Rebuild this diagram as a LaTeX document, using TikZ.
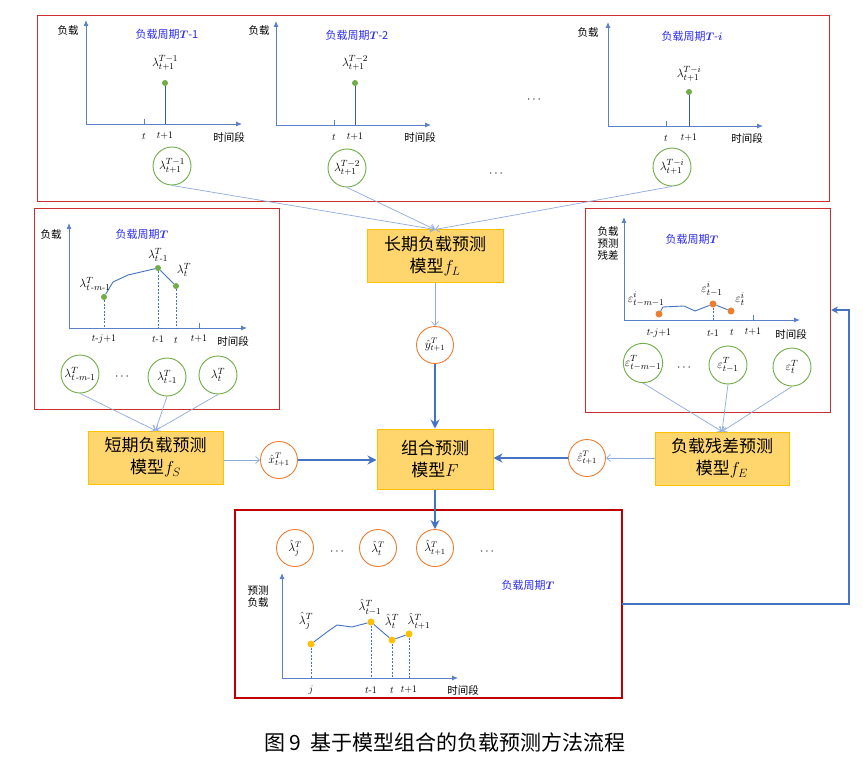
\documentclass[tikz,border=0pt]{standalone}
\usepackage{amsmath}
\usepackage{fontspec}
\newfontfamily\cjk{Noto Sans CJK SC}
\usetikzlibrary{arrows.meta}
\definecolor{panelred}{RGB}{205,45,45}
\definecolor{darkred}{RGB}{192,0,0}
\definecolor{axblue}{RGB}{91,127,200}
\definecolor{stemblue}{RGB}{60,90,150}
\definecolor{fatblue}{RGB}{68,114,196}
\definecolor{lineblue}{RGB}{143,170,220}
\definecolor{cgreen}{RGB}{112,173,71}
\definecolor{corange}{RGB}{237,125,49}
\definecolor{boxfill}{RGB}{255,214,110}
\definecolor{boxdraw}{RGB}{255,192,0}
\definecolor{ttlblue}{RGB}{45,45,240}
\definecolor{dotyellow}{RGB}{255,192,0}
\newcommand{\bT}{$\boldsymbol{T}$}
\tikzset{
  panel/.style={draw=panelred, line width=1pt, inner sep=0pt},
  bpanel/.style={draw=darkred, line width=2pt, inner sep=0pt},
  axis/.style={draw=axblue, line width=0.9pt, -{Latex[length=6pt,width=5pt]}},
  tick/.style={draw=axblue, line width=0.8pt},
  stem/.style={draw=stemblue, line width=1pt},
  curve/.style={draw=fatblue, line width=0.9pt},
  dashv/.style={draw=fatblue, line width=0.7pt, dash pattern=on 2pt off 1.5pt},
  gcirc/.style={circle, draw=cgreen, line width=0.9pt, minimum size=38pt, inner sep=0pt, font=\fontsize{12.5}{13}\selectfont},
  ocirc/.style={circle, draw=corange, line width=0.9pt, minimum size=37pt, inner sep=0pt, font=\fontsize{12}{13}\selectfont},
  gdot/.style={circle, fill=cgreen, inner sep=0pt, minimum size=6pt},
  odot/.style={circle, fill=corange, inner sep=0pt, minimum size=7pt},
  ydot/.style={circle, fill=dotyellow, inner sep=0pt, minimum size=7pt},
  model/.style={draw=boxdraw, fill=boxfill, line width=1pt, align=center, inner sep=0pt, font=\cjk\fontsize{17}{22}\selectfont},
  thinln/.style={draw=lineblue, line width=0.7pt},
  thinarr/.style={draw=lineblue, line width=0.7pt, -{Straight Barb[length=4pt,width=7pt]}},
  fat/.style={draw=fatblue, line width=2.2pt, -{Stealth[length=9pt,width=9pt]}},
  fb/.style={draw=fatblue, line width=1.5pt, -{Stealth[length=7pt,width=7pt]}},
  lbl/.style={font=\cjk\fontsize{10.5}{13}\selectfont, inner sep=0pt},
  ttl/.style={text=ttlblue, font=\cjk\fontsize{11}{13}\selectfont, inner sep=0pt},
  ml/.style={font=\fontsize{12.5}{13}\selectfont, inner sep=0pt},
  tl/.style={font=\fontsize{10}{12}\selectfont, inner sep=0pt},
  dots/.style={font=\fontsize{12}{13}\selectfont, inner sep=0pt},
}
\begin{document}
\begin{tikzpicture}[x=1pt,y=-1pt]
\useasboundingbox[fill=white] (0,0) rectangle (863,757);

% ================= top panel =================
\node[panel, minimum width=792pt, minimum height=186pt] (toppanel) at (433,109) {};

% chart 1
\coordinate (o1) at (86,124);
\draw[axis] (o1) -- (86,20);
\draw[axis] (o1) -- (242,124);
\draw[tick] (144,119) -- (144,124);
\node[gdot] (p1) at (165,83) {};
\draw[stem] (p1) -- (165,124);
\node[ml] (l1) at (165,63) {$\lambda^{T-1}_{t+1}$};
\node[tl] (t1a) at (144,136) {$t$};
\node[tl] (t1b) at (165,136) {$t$+1};
\node[lbl] (x1) at (229,137) {时间段};
\node[lbl] (y1) at (68,31) {负载};
\node[ttl] (h1) at (167,34) {负载周期\bT-1};
\node[gcirc] (c1) at (172,166) {$\lambda^{T-1}_{t+1}$};

% chart 2
\coordinate (o2) at (276,125);
\draw[axis] (o2) -- (276,21);
\draw[axis] (o2) -- (431,125);
\draw[tick] (334,120) -- (334,125);
\node[gdot] (p2) at (355,83) {};
\draw[stem] (p2) -- (355,125);
\node[ml] (l2) at (355,63) {$\lambda^{T-2}_{t+1}$};
\node[tl] (t2a) at (334,137) {$t$};
\node[tl] (t2b) at (355,137) {$t$+1};
\node[lbl] (x2) at (420,138) {时间段};
\node[lbl] (y2) at (259,31) {负载};
\node[ttl] (h2) at (357,35) {负载周期\bT-2};
\node[gcirc] (c2) at (347,168) {$\lambda^{T-2}_{t+1}$};

\node[dots] (dd1) at (535,100) {$\cdots$};
\node[dots] (dd2) at (497,174) {$\cdots$};

% chart 3
\coordinate (o3) at (608,126);
\draw[axis] (o3) -- (608,22);
\draw[axis] (o3) -- (763,126);
\draw[tick] (666,121) -- (666,126);
\node[gdot] (p3) at (689,92) {};
\draw[stem] (p3) -- (689,126);
\node[ml] (l3) at (689,74) {$\lambda^{T-i}_{t+1}$};
\node[tl] (t3a) at (666,138) {$t$};
\node[tl] (t3b) at (689,138) {$t$+1};
\node[lbl] (x3) at (747,139) {时间段};
\node[lbl] (y3) at (588,33) {负载};
\node[ttl] (h3) at (692,36) {负载周期\bT-$\boldsymbol{i}$};
\node[gcirc] (c3) at (672,167) {$\lambda^{T-i}_{t+1}$};

% long-term model
\node[model, minimum width=136pt, minimum height=52pt] (fL) at (435,256) {长期负载预测\\模型$f_L$};
\draw[thinarr] (c1.south) -- (fL.north);
\draw[thinarr] (c2.south) -- (fL.north);
\draw[thinarr] (c3.south) -- (fL.north);

\node[ocirc] (yhat) at (435,345) {$\hat{y}^T_{t+1}$};
\draw[thinarr] (fL.south) -- (yhat.north);

% ================= combination model =================
\node[model, minimum width=116pt, minimum height=60pt] (fF) at (435,459) {组合预测\\模型$F$};
\draw[fat] (yhat.south) -- (fF.north);

% ================= left panel =================
\node[panel, minimum width=245pt, minimum height=200pt] (leftpanel) at (156.5,309) {};
\draw[axis] (69,328) -- (69,223);
\draw[axis] (69,328) -- (247,328);
\draw[tick] (199,323) -- (199,328);
\node[lbl] (ly) at (51,235) {负载};
\node[ttl] (lh) at (142,234) {负载周期\bT};
\node[gdot] (lp1) at (104,297) {};
\node[gdot] (lp2) at (158,268) {};
\node[gdot] (lp3) at (176,286) {};
\draw[curve] (lp1) -- (113,282) -- (128,275) -- (lp2) -- (lp3);
\draw[dashv] (lp1) -- (104,328);
\draw[dashv] (lp2) -- (158,328);
\draw[dashv] (lp3) -- (176,328);
\node[ml] (ll1) at (95,284) {$\lambda^T_{t\,\text{-}m\text{-}1}$};
\node[ml] (ll2) at (158,255) {$\lambda^T_{t\,\text{-}1}$};
\node[ml] (ll3) at (184,270) {$\lambda^T_t$};
\node[tl] (lt1) at (104,339) {$t$-$j$+1};
\node[tl] (lt2) at (158,339) {$t$-1};
\node[tl] (lt3) at (176,340) {$t$};
\node[tl] (lt4) at (199,339) {$t$+1};
\node[lbl] (lx) at (233,341) {时间段};
\node[gcirc] (lc1) at (80,374) {$\lambda^T_{t\,\text{-}m\text{-}1}$};
\node[dots] (ldots) at (123,377) {$\cdots$};
\node[gcirc] (lc2) at (167,377) {$\lambda^T_{t\,\text{-}1}$};
\node[gcirc] (lc3) at (218,375) {$\lambda^T_t$};

\node[model, minimum width=135pt, minimum height=53pt] (fS) at (155.5,457.5) {短期负载预测\\模型$f_S$};
\draw[thinarr] (lc1.south) -- (fS.north);
\draw[thinarr] (lc2.south) -- (fS.north);
\draw[thinarr] (lc3.south) -- (fS.north);

\node[ocirc] (xhat) at (279,460) {$\hat{x}^T_{t+1}$};
\draw[thinarr] (fS.east |- xhat) -- (xhat.west);
\draw[fat] (xhat.east) -- (xhat -| fF.west);

% ================= right panel =================
\node[panel, minimum width=245pt, minimum height=203pt] (rightpanel) at (707.5,310.5) {};
\draw[axis] (624,320) -- (624,217);
\draw[axis] (624,320) -- (800,320);
\draw[tick] (753,315) -- (753,320);
\node[lbl, align=center] (ry) at (608,243) {负载\\[-1pt]预测\\[-1pt]残差};
\node[ttl] (rh) at (692,239) {负载周期\bT};
\node[odot] (rp1) at (659,314) {};
\node[odot] (rp2) at (713,304) {};
\node[odot] (rp3) at (731,311) {};
\draw[curve] (rp1) -- (663,307) -- (684,306) -- (695,311) -- (rp2) -- (rp3);
\draw[dashv] (rp2) -- (713,320);
\node[ml] (rl1) at (646,299) {$\varepsilon^{i}_{t-m-1}$};
\node[ml] (rl2) at (712,289) {$\varepsilon^{i}_{t-1}$};
\node[ml] (rl3) at (740,299) {$\varepsilon^{i}_{t}$};
\node[tl] (rt1) at (659,333) {$t$-$j$+1};
\node[tl] (rt2) at (713,333) {$t$-1};
\node[tl] (rt3) at (732,332) {$t$};
\node[tl] (rt4) at (753,332) {$t$+1};
\node[lbl] (rx) at (791,334) {时间段};
\node[gcirc] (rc1) at (643,363) {$\varepsilon^T_{t-m-1}$};
\node[dots] (rdots) at (685,368) {$\cdots$};
\node[gcirc] (rc2) at (728,365) {$\varepsilon^T_{t-1}$};
\node[gcirc] (rc3) at (792,367) {$\varepsilon^T_{t}$};

\node[model, minimum width=134pt, minimum height=53pt] (fE) at (722,458.5) {负载残差预测\\模型$f_E$};
\draw[thinarr] (rc1.south) -- (fE.north);
\draw[thinarr] (rc2.south) -- (fE.north);
\draw[thinarr] (rc3.south) -- (fE.north);

\node[ocirc] (ehat) at (587,458) {$\hat{\varepsilon}^T_{t+1}$};
\draw[thinarr] (fE.west |- ehat) -- (ehat.east);
\draw[fat] (ehat.west) -- (ehat -| fF.east);

% ================= bottom panel =================
\node[bpanel, minimum width=387pt, minimum height=188pt] (botpanel) at (428.5,604) {};
\node[ocirc] (bc1) at (295,548) {$\hat{\lambda}^T_j$};
\node[dots] (bd1) at (338,552) {$\cdots$};
\node[ocirc] (bc2) at (378,548) {$\hat{\lambda}^T_t$};
\node[ocirc] (bc3) at (435,548) {$\hat{\lambda}^T_{t+1}$};
\node[dots] (bd2) at (488,552) {$\cdots$};
\draw[fat] (fF.south) -- (bc3.north);

\draw[axis] (282,678) -- (282,573);
\draw[axis] (282,678) -- (458,678);
\node[lbl, align=center] (by) at (258,597) {预测\\[-1pt]负载};
\node[ttl] (bh) at (528,585) {负载周期\bT};
\node[ydot] (bp1) at (311,644) {};
\node[ydot] (bp2) at (371,622) {};
\node[ydot] (bp3) at (392,640) {};
\node[ydot] (bp4) at (409,634) {};
\draw[curve] (bp1) -- (327,632) -- (337,625) -- (352,627) -- (bp2) -- (bp3) -- (bp4);
\draw[dashv] (bp1) -- (311,678);
\draw[dashv] (bp2) -- (371,678);
\draw[dashv] (bp3) -- (392,678);
\draw[dashv] (bp4) -- (409,678);
\node[ml] (bl1) at (306,621) {$\hat{\lambda}^T_j$};
\node[ml] (bl2) at (370,607) {$\hat{\lambda}^T_{t-1}$};
\node[ml] (bl3) at (392,621) {$\hat{\lambda}^T_t$};
\node[ml] (bl4) at (419,621) {$\hat{\lambda}^T_{t+1}$};
\node[tl] (bt1) at (311,690) {$j$};
\node[tl] (bt2) at (371,690) {$t$-1};
\node[tl] (bt3) at (392,690) {$t$};
\node[tl] (bt4) at (409,690) {$t$+1};
\node[lbl] (bx) at (463,690) {时间段};

% feedback
\coordinate (fbA) at (622,604);
\coordinate (fbB) at (831,310);
\draw[fb] (fbA) -- (849,604) |- (fbB);

% caption
\node[font=\cjk\fontsize{21}{24}\selectfont, inner sep=0pt] (cap) at (445,742) {图 9\ \ 基于模型组合的负载预测方法流程};
\end{tikzpicture}
\end{document}
